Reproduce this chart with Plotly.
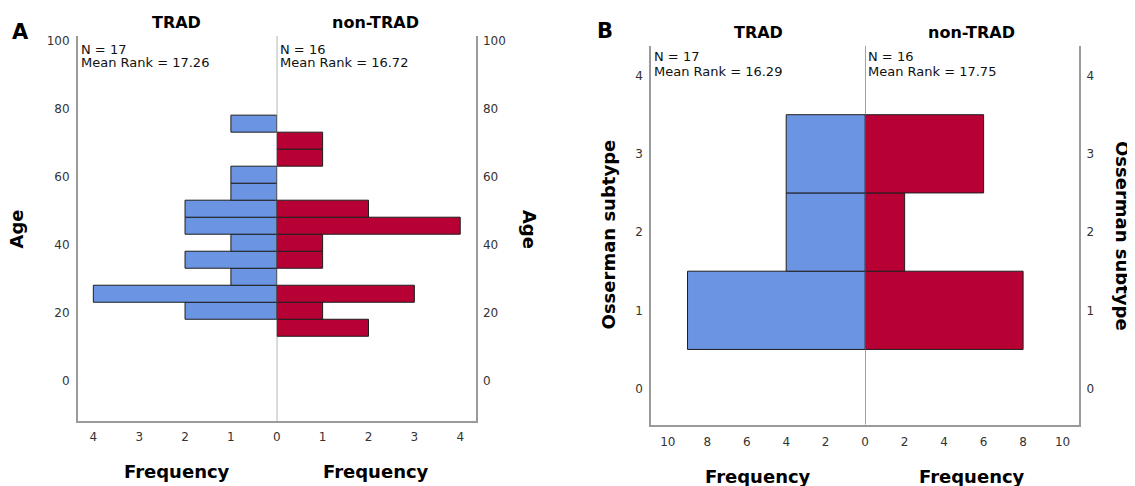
import plotly.graph_objects as go

# ---------------- data ----------------
age_bin_lower = [13, 18, 23, 28, 33, 38, 43, 48, 53, 58, 63, 68, 73]
age_bin_width = 5
age_trad = [0, 2, 4, 1, 2, 1, 2, 2, 1, 1, 0, 0, 1]
age_nontrad = [2, 1, 3, 0, 1, 1, 4, 2, 0, 0, 1, 1, 0]

subtypes = [1, 2, 3]
sub_trad = [9, 4, 4]
sub_nontrad = [8, 2, 6]

age_ticks = [0, 20, 40, 60, 80, 100]
age_freq_ticks_left = [0, 1, 2, 3, 4]
age_freq_ticks_right = [1, 2, 3, 4]
sub_ticks = [0, 1, 2, 3, 4]
sub_freq_ticks_left = [0, 2, 4, 6, 8, 10]
sub_freq_ticks_right = [2, 4, 6, 8, 10]

group_names = ["TRAD", "non-TRAD"]
age_stats = [("N = 17", "Mean Rank = 17.26"), ("N = 16", "Mean Rank = 16.72")]
sub_stats = [("N = 17", "Mean Rank = 16.29"), ("N = 16", "Mean Rank = 17.75")]

BLUE = "#6b95e3"
RED = "#b70033"
EDGE = "#1e1e1e"
AXIS = "#9a9a9a"
CENTER = "#555555"
FONT = "DejaVu Sans"
OFF = 8  # page body margin
W, H = 1135 - OFF, 486 - OFF


def px(x):
    return (x - OFF) / W


def py(y):
    return 1 - (y - OFF) / H


fig = go.Figure()

age_centers = [b + age_bin_width / 2 for b in age_bin_lower]


def nz(vals, pos):
    pts = [(v, p) for v, p in zip(vals, pos) if v > 0]
    return [p[0] for p in pts], [p[1] for p in pts]


xv, yv = nz(age_trad, age_centers)
fig.add_trace(go.Bar(x=xv, y=yv, orientation="h", width=age_bin_width, base=0,
                     marker=dict(color=BLUE, line=dict(color=EDGE, width=1)),
                     xaxis="x", yaxis="y", showlegend=False))
xv, yv = nz(age_nontrad, age_centers)
fig.add_trace(go.Bar(x=xv, y=yv, orientation="h", width=age_bin_width, base=0,
                     marker=dict(color=RED, line=dict(color=EDGE, width=1)),
                     xaxis="x2", yaxis="y3", showlegend=False))
xv, yv = nz(sub_trad, subtypes)
fig.add_trace(go.Bar(x=xv, y=yv, orientation="h", width=1, base=0,
                     marker=dict(color=BLUE, line=dict(color=EDGE, width=1)),
                     xaxis="x3", yaxis="y2", showlegend=False))
xv, yv = nz(sub_nontrad, subtypes)
fig.add_trace(go.Bar(x=xv, y=yv, orientation="h", width=1, base=0,
                     marker=dict(color=RED, line=dict(color=EDGE, width=1)),
                     xaxis="x4", yaxis="y4", showlegend=False))

tickfont = dict(family=FONT, size=12, color="#333333")
base = dict(showgrid=False, zeroline=False, showline=True, linecolor=AXIS, linewidth=1.5,
            ticks="outside", tickcolor="rgba(0,0,0,0)", tickfont=tickfont, fixedrange=True)

A_y = [py(420.7), py(34)]
B_y = [py(424.3), py(44)]
age_range = [-11.9, 101.3]
sub_range = [-0.46, 4.38]

fig.update_layout(
    width=W, height=H, margin=dict(l=0, r=0, t=0, b=0),
    paper_bgcolor="white", plot_bgcolor="white", barmode="overlay",
    xaxis=dict(base, ticklen=4, domain=[px(78), px(277.7)], range=[4.34, 0], anchor="y",
               tickvals=age_freq_ticks_left),
    xaxis2=dict(base, ticklen=4, domain=[px(277.7), px(477.5)], range=[0, 4.34], anchor="y3",
                tickvals=age_freq_ticks_right),
    yaxis=dict(base, ticklen=4, domain=A_y, range=age_range, anchor="x", tickvals=age_ticks),
    yaxis3=dict(base, ticklen=3, range=age_range, anchor="x2", overlaying="y", side="right",
                tickvals=age_ticks),
    xaxis3=dict(base, ticklen=5, domain=[px(653.3), px(868.2)], range=[10.85, 0], anchor="y2",
                tickvals=sub_freq_ticks_left),
    xaxis4=dict(base, ticklen=5, domain=[px(868.2), px(1083.2)], range=[0, 10.85], anchor="y4",
                tickvals=sub_freq_ticks_right),
    yaxis2=dict(base, ticklen=4, domain=B_y, range=sub_range, anchor="x3", tickvals=sub_ticks),
    yaxis4=dict(base, ticklen=3, range=sub_range, anchor="x4", overlaying="y2", side="right",
                tickvals=sub_ticks),
)

# center lines at frequency 0
fig.add_shape(type="line", xref="x2", x0=0, x1=0, yref="y domain", y0=0, y1=1,
              line=dict(color=CENTER, width=1))
fig.add_shape(type="line", xref="x4", x0=0, x1=0, yref="y2 domain", y0=0, y1=1,
              line=dict(color=CENTER, width=1))


def ann(text, x, y, size, bold=False, angle=0, xanchor="center", color="black"):
    fig.add_annotation(text=f"<b>{text}</b>" if bold else text, x=px(x), y=py(y),
                       xref="paper", yref="paper", showarrow=False, textangle=angle,
                       xanchor=xanchor, yanchor="middle",
                       font=dict(family=FONT, size=size, color=color))


# panel letters
ann("A", 21, 30, 21, bold=True)
ann("B", 607, 29.5, 21, bold=True)

# group titles
ann(group_names[0], 177.5, 20.7, 16, bold=True)
ann(group_names[1], 376.5, 20.7, 16, bold=True)
ann(group_names[0], 760.7, 30.7, 16, bold=True)
ann(group_names[1], 975, 30.7, 16, bold=True)

# stats
for (l1, l2), x in zip(age_stats, [79, 278.5]):
    ann(l1, x, 47.5, 13, xanchor="left", color="#111111")
    ann(l2, x, 61, 13, xanchor="left", color="#111111")
for (l1, l2), x in zip(sub_stats, [654.5, 869.5]):
    ann(l1, x, 55, 13, xanchor="left", color="#111111")
    ann(l2, x, 69.5, 13, xanchor="left", color="#111111")

# axis titles
ann("Frequency", 178, 471.5, 18, bold=True)
ann("Frequency", 377, 471.5, 18, bold=True)
ann("Frequency", 760.7, 476.7, 18, bold=True)
ann("Frequency", 975.7, 476.7, 18, bold=True)
ann("Age", 16.5, 228, 18, bold=True, angle=-90)
ann("Age", 532, 228, 18, bold=True, angle=90)
ann("Osserman subtype", 610.5, 233, 18, bold=True, angle=-90)
ann("Osserman subtype", 1127, 235, 18, bold=True, angle=90)

fig.write_html("out.html")
